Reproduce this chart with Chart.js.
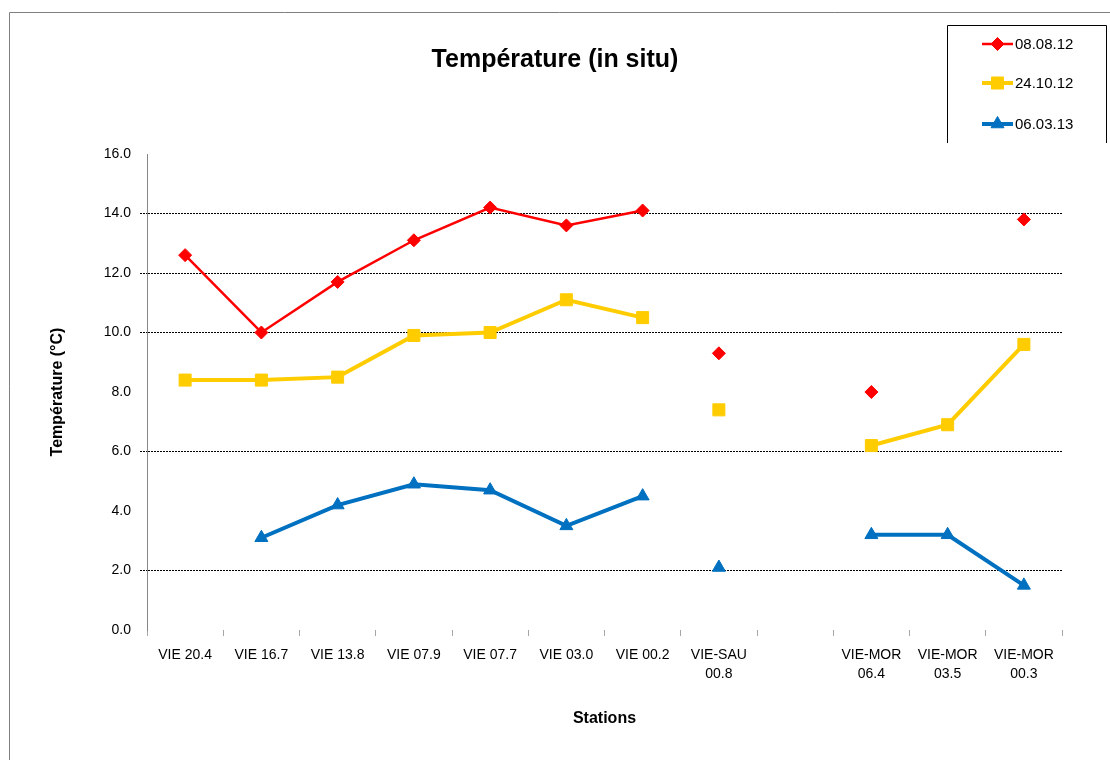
<!DOCTYPE html>
<html>
<head>
<meta charset="utf-8">
<script src="https://cdn.jsdelivr.net/npm/chart.js@4/dist/chart.umd.min.js"></script>
<style>
  html, body { margin: 0; padding: 0; background: #fff; }
</style>
</head>
<body>
<canvas id="tempChart" width="1110" height="760"></canvas>
<script>
// Stations (x categories) - one empty slot between VIE-SAU and VIE-MOR
const stations = ["VIE 20.4", "VIE 16.7", "VIE 13.8", "VIE 07.9", "VIE 07.7", "VIE 03.0", "VIE 00.2",
  ["VIE-SAU", "00.8"], "", ["VIE-MOR", "06.4"], ["VIE-MOR", "03.5"], ["VIE-MOR", "00.3"]];

// Température (°C) per campaign
const temp080812 = [12.6, 10.0, 11.7, 13.1, 14.2, 13.6, 14.1, 9.3, null, 8.0, null, 13.8];
const temp241012 = [8.4, 8.4, 8.5, 9.9, 10.0, 11.1, 10.5, 7.4, null, 6.2, 6.9, 9.6];
const temp060313 = [null, 3.1, 4.2, 4.9, 4.7, 3.5, 4.5, 2.1, null, 3.2, 3.2, 1.5];

const seriesNames = ["08.08.12", "24.10.12", "06.03.13"];
const yTicks = [0, 2, 4, 6, 8, 10, 12, 14, 16];
const shownGrid = [2, 6, 10, 12, 14];

Chart.defaults.font.family = "'Liberation Sans', Arial, sans-serif";
Chart.defaults.color = "#000";

// the VIE-SAU station is not joined to the Vienne stations
function breakAfterVienne(color) {
  return ctx => ctx.p0DataIndex === 6 ? "rgba(0,0,0,0)" : color;
}

function makeSet(label, data, color, style, radius, width) {
  return {
    label: label,
    data: data,
    yAxisID: "y",
    borderColor: color,
    backgroundColor: color,
    pointBackgroundColor: color,
    pointBorderColor: color,
    pointStyle: style,
    pointRadius: radius,
    pointHoverRadius: radius,
    pointBorderWidth: 1,
    borderWidth: width,
    tension: 0,
    spanGaps: false,
    segment: { borderColor: breakAfterVienne(color) }
  };
}

const framePlugin = {
  id: "frame",
  beforeDraw(chart) {
    const ctx = chart.ctx;
    ctx.save();
    ctx.fillStyle = "#fff";
    ctx.fillRect(0, 0, chart.width, chart.height);
    ctx.strokeStyle = "#7f7f7f";
    ctx.lineWidth = 1;
    ctx.beginPath();
    ctx.moveTo(9.5, chart.height);
    ctx.lineTo(9.5, 12.5);
    ctx.lineTo(chart.width, 12.5);
    ctx.stroke();
    ctx.restore();
  },
  afterDraw(chart) {
    const ctx = chart.ctx;
    ctx.save();
    // legend box (cut at the bottom like the original)
    ctx.strokeStyle = "#000";
    ctx.lineWidth = 1;
    ctx.beginPath();
    ctx.moveTo(947.5, 143);
    ctx.lineTo(947.5, 25.5);
    ctx.lineTo(1106.5, 25.5);
    ctx.lineTo(1106.5, 143);
    ctx.stroke();

    const rowsY = [44, 83, 124];
    chart.data.datasets.forEach((ds, i) => {
      const y = rowsY[i];
      ctx.strokeStyle = ds.borderColor;
      ctx.lineWidth = ds.borderWidth;
      ctx.beginPath();
      ctx.moveTo(982, y);
      ctx.lineTo(1013, y);
      ctx.stroke();
      ctx.fillStyle = ds.borderColor;
      ctx.lineWidth = 1;
      Chart.helpers.drawPoint(ctx, { pointStyle: ds.pointStyle, radius: ds.pointRadius, rotation: 0, borderWidth: 1 }, 997.5, y);
      ctx.fillStyle = "#000";
      ctx.font = "15px 'Liberation Sans', Arial, sans-serif";
      ctx.textBaseline = "middle";
      ctx.textAlign = "left";
      ctx.fillText(ds.label, 1015, y + 1);
    });
    ctx.restore();
  }
};

new Chart(document.getElementById("tempChart"), {
  type: "line",
  data: {
    labels: stations,
    datasets: [
      makeSet(seriesNames[0], temp080812, "#ff0000", "rectRot", 6.5, 2.5),
      makeSet(seriesNames[1], temp241012, "#ffcc00", "rect", 8.5, 4),
      makeSet(seriesNames[2], temp060313, "#0070c0", "triangle", 7.5, 4)
    ]
  },
  options: {
    responsive: false,
    animation: false,
    layout: { padding: { left: 0, right: 0, top: 0, bottom: 0 } },
    plugins: {
      legend: { display: false },
      tooltip: { enabled: false },
      title: {
        display: true,
        text: "Température (in situ)",
        font: { size: 25, weight: "bold" },
        color: "#000",
        padding: { top: 45, bottom: 79 }
      }
    },
    scales: {
      x: {
        offset: true,
        afterFit: s => { s.height = 130; },
        grid: { drawOnChartArea: false, offset: true, tickLength: 6, color: "#a6a6a6" },
        border: { display: false },
        ticks: {
          autoSkip: false, maxRotation: 0, minRotation: 0,
          padding: 9,
          font: { size: 14, lineHeight: 1.4 },
          color: "#000"
        },
        title: {
          display: true,
          text: "Stations",
          font: { size: 16, weight: "bold" },
          padding: { top: 0, bottom: 32 }
        }
      },
      y: {
        min: 0,
        max: 16,
        afterFit: s => { s.width = 147; },
        afterBuildTicks: s => { s.ticks = yTicks.map(v => ({ value: v })); },
        grid: {
          color: c => shownGrid.includes(c.tick && c.tick.value) ? "#000" : "rgba(0,0,0,0)",
          tickColor: c => shownGrid.includes(c.tick && c.tick.value) ? "#000" : "rgba(0,0,0,0)",
          tickLength: 7,
          tickBorderDash: [2, 1],
          lineWidth: 1
        },
        border: { display: true, color: "#868686", width: 1, dash: [2, 1] },
        ticks: {
          padding: 9,
          font: { size: 14 },
          color: "#000",
          callback: v => Number(v).toFixed(1)
        },
        title: {
          display: true,
          text: "Température (°C)",
          font: { size: 16, weight: "bold" },
          padding: { top: 48, bottom: 0 }
        }
      },
      // empty right-hand margin, keeps the title centred on the whole frame
      yRight: {
        position: "right",
        min: 0,
        max: 16,
        afterFit: s => { s.width = 48; },
        grid: { drawOnChartArea: false, drawTicks: false },
        border: { display: false },
        ticks: { display: false }
      }
    }
  },
  plugins: [framePlugin]
});
</script>
</body>
</html>
